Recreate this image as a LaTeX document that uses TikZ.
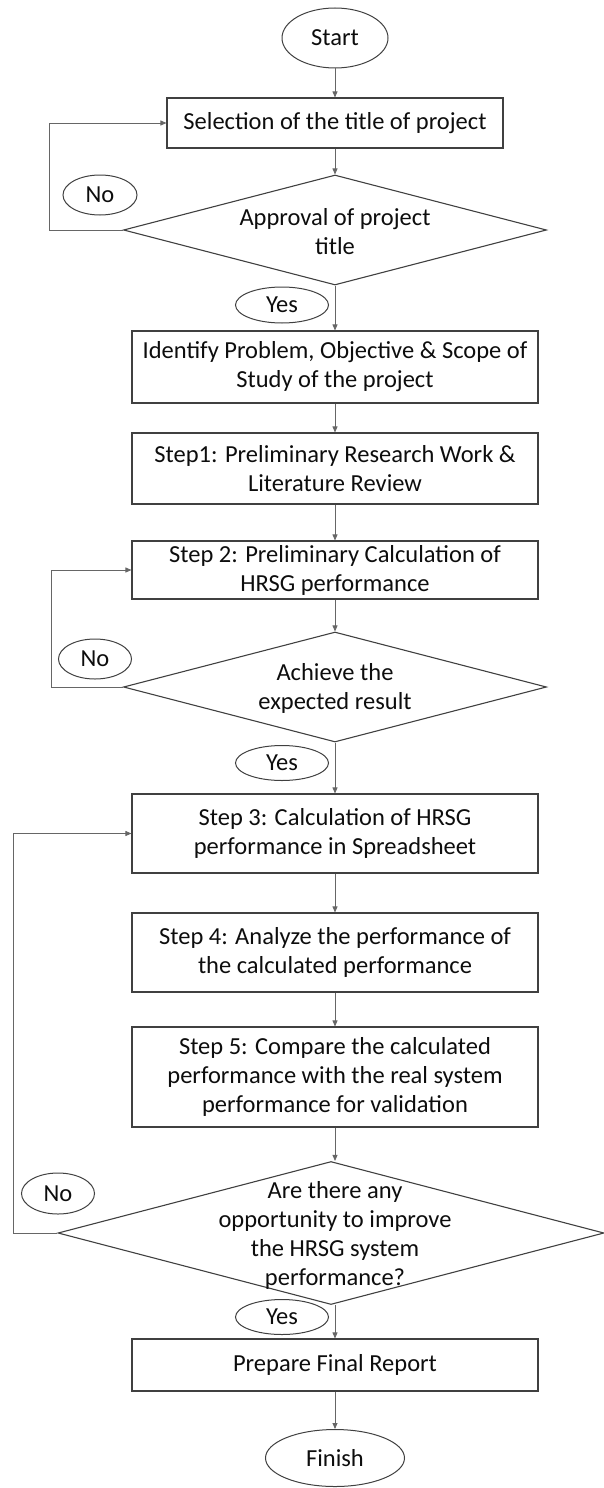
\documentclass[tikz,border=0pt]{standalone}
\usepackage{fontspec}
\setmainfont{Carlito}
\usetikzlibrary{shapes.geometric,arrows.meta}
\begin{document}
\begin{tikzpicture}[x=1pt,y=-1pt,
  every node/.style={font=\fontsize{24.5}{29}\selectfont, text=black!95},
  box/.style={draw=black!75, line width=1.1pt, rectangle, minimum width=406pt, inner sep=0pt, align=center},
  oval/.style={draw=black!75, line width=1pt, ellipse, inner sep=0pt},
  dia/.style={draw=black!75, line width=1.1pt, diamond, inner sep=0pt},
  dtext/.style={align=center, inner sep=0pt},
  conn/.style={draw=black!60, line width=0.8pt, -{Triangle[length=6pt,width=5pt]}},
  line/.style={draw=black!60, line width=0.8pt}]
\useasboundingbox (0,0) rectangle (604,1488);

% main nodes
\node[oval, minimum width=106pt, minimum height=60pt] (start) at (335,38) {Start};
\node[box, minimum width=336pt, minimum height=50pt] (sel) at (335,123) {Selection of the title of project};
\node[dia, minimum width=423pt, minimum height=110pt] (d1) at (335,230) {};
\node[dtext] (d1t) at (335,232) {Approval of project\\title};
\node[box, minimum height=72pt] (ident) at (335,367) {Identify Problem, Objective \& Scope of\\Study of the project};
\node[box, minimum height=71pt] (s1) at (335,468.5) {Step1: Preliminary Research Work \&\\Literature Review};
\node[box, minimum height=58pt] (s2) at (335,570) {Step 2: Preliminary Calculation of\\HRSG performance};
\node[dia, minimum width=423pt, minimum height=110pt] (d2) at (335,687) {};
\node[dtext] (d2t) at (335,688) {Achieve the\\expected result};
\node[box, minimum height=79pt] (s3) at (335,833.5) {Step 3: Calculation of HRSG\\performance in Spreadsheet};
\node[box, minimum height=79pt] (s4) at (335,952.5) {Step 4: Analyze the performance of\\the calculated performance};
\node[box, minimum height=100pt] (s5) at (335,1077) {Step 5: Compare the calculated\\performance with the real system\\performance for validation};
\node[dia, minimum width=546pt, minimum height=143pt] (d3) at (331,1233) {};
\node[dtext] (d3t) at (335,1235) {Are there any\\opportunity to improve\\the HRSG system\\performance?};
\node[box, minimum height=52pt] (rep) at (335,1365) {Prepare Final Report};
\node[oval, minimum width=139pt, minimum height=57pt] (fin) at (335,1458) {Finish};

% yes / no labels
\node[oval, minimum width=74pt, minimum height=40pt] (no1) at (100,195) {No};
\node[oval, minimum width=93pt, minimum height=36pt] (yes1) at (282,305) {Yes};
\node[oval, minimum width=73pt, minimum height=40pt] (no2) at (95,659) {No};
\node[oval, minimum width=93pt, minimum height=35pt] (yes2) at (282,763) {Yes};
\node[oval, minimum width=73pt, minimum height=41pt] (no3) at (58,1193.5) {No};
\node[oval, minimum width=93pt, minimum height=35pt] (yes3) at (282,1317) {Yes};

% connectors
\draw[conn] (start) -- (sel);
\draw[conn] (sel) -- (d1);
\draw[conn] (d1.south) -- (ident);
\draw[conn] (ident) -- (s1);
\draw[conn] (s1) -- (s2);
\draw[conn] (s2) -- (d2);
\draw[conn] (d2.south) -- (s3);
\draw[conn] (s3) -- (s4);
\draw[conn] (s4) -- (s5);
\draw[conn] (s5) -- (s5 |- d3.north);
\draw[conn] (d3.south -| rep.north) -- (rep);
\draw[conn] (rep) -- (fin);

% loops
\coordinate (l1) at (49,230);
\coordinate (l2) at (51,687);
\coordinate (l3) at (13,1233);
\draw[conn] (d1.west) -- (l1) |- (sel.west);
\draw[conn] (d2.west) -- (l2) |- (s2.west);
\draw[conn] (d3.west) -- (l3) |- (s3.west);
\end{tikzpicture}
\end{document}
